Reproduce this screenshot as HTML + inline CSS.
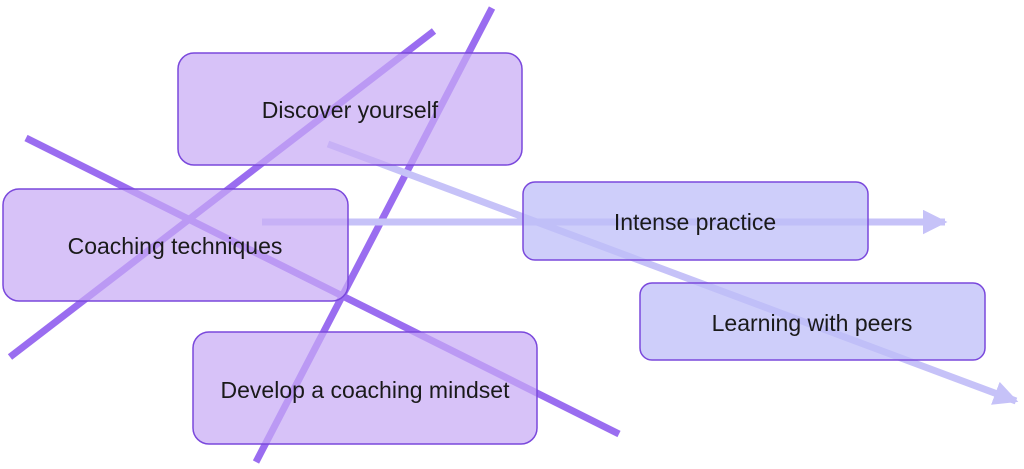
<!DOCTYPE html>
<html><head><meta charset="utf-8"><style>
html,body{margin:0;padding:0;background:#fff;width:1024px;height:469px;overflow:hidden}
svg{display:block}
text{font-family:"Liberation Sans",sans-serif;font-size:23px;fill:#1a1a1a}
</style></head><body>
<svg width="1024" height="469" viewBox="0 0 1024 469">
<defs>
<marker id="a" viewBox="0 0 10 10" refX="9" refY="5" markerWidth="3.5" markerHeight="3.5" orient="auto" markerUnits="strokeWidth"><path d="M0,0 L10,5 L0,10 z" fill="#c6c2f8"/></marker>
</defs>
<g stroke-linecap="butt">
<line x1="10" y1="357" x2="434" y2="31" stroke="#9a6df0" stroke-width="7"/>
<line x1="256" y1="462" x2="492" y2="8" stroke="#9a6df0" stroke-width="7"/>
<line x1="26" y1="138" x2="619" y2="434" stroke="#9a6df0" stroke-width="7"/>
<line x1="262" y1="222" x2="945" y2="222" stroke="#c6c2f8" stroke-width="7" marker-end="url(#a)"/>
<line x1="328" y1="144" x2="1016" y2="401" stroke="#c6c2f8" stroke-width="7" marker-end="url(#a)"/>
</g>
<g stroke="#7a48dc" stroke-width="1.5">
<rect x="178" y="53" width="344" height="112" rx="16" fill="rgba(200,170,245,0.72)"/>
<rect x="3" y="189" width="345" height="112" rx="16" fill="rgba(200,170,245,0.72)"/>
<rect x="193" y="332" width="344" height="112" rx="16" fill="rgba(200,170,245,0.72)"/>
<rect x="523" y="182" width="345" height="78" rx="12" fill="rgba(190,190,248,0.75)"/>
<rect x="640" y="283" width="345" height="77" rx="12" fill="rgba(190,190,248,0.75)"/>
</g>
<text x="350" y="118" text-anchor="middle">Discover yourself</text>
<text x="175" y="254" text-anchor="middle">Coaching techniques</text>
<text x="365" y="398" text-anchor="middle">Develop a coaching mindset</text>
<text x="695" y="230" text-anchor="middle">Intense practice</text>
<text x="812" y="331" text-anchor="middle">Learning with peers</text>
</svg>
</body></html>
